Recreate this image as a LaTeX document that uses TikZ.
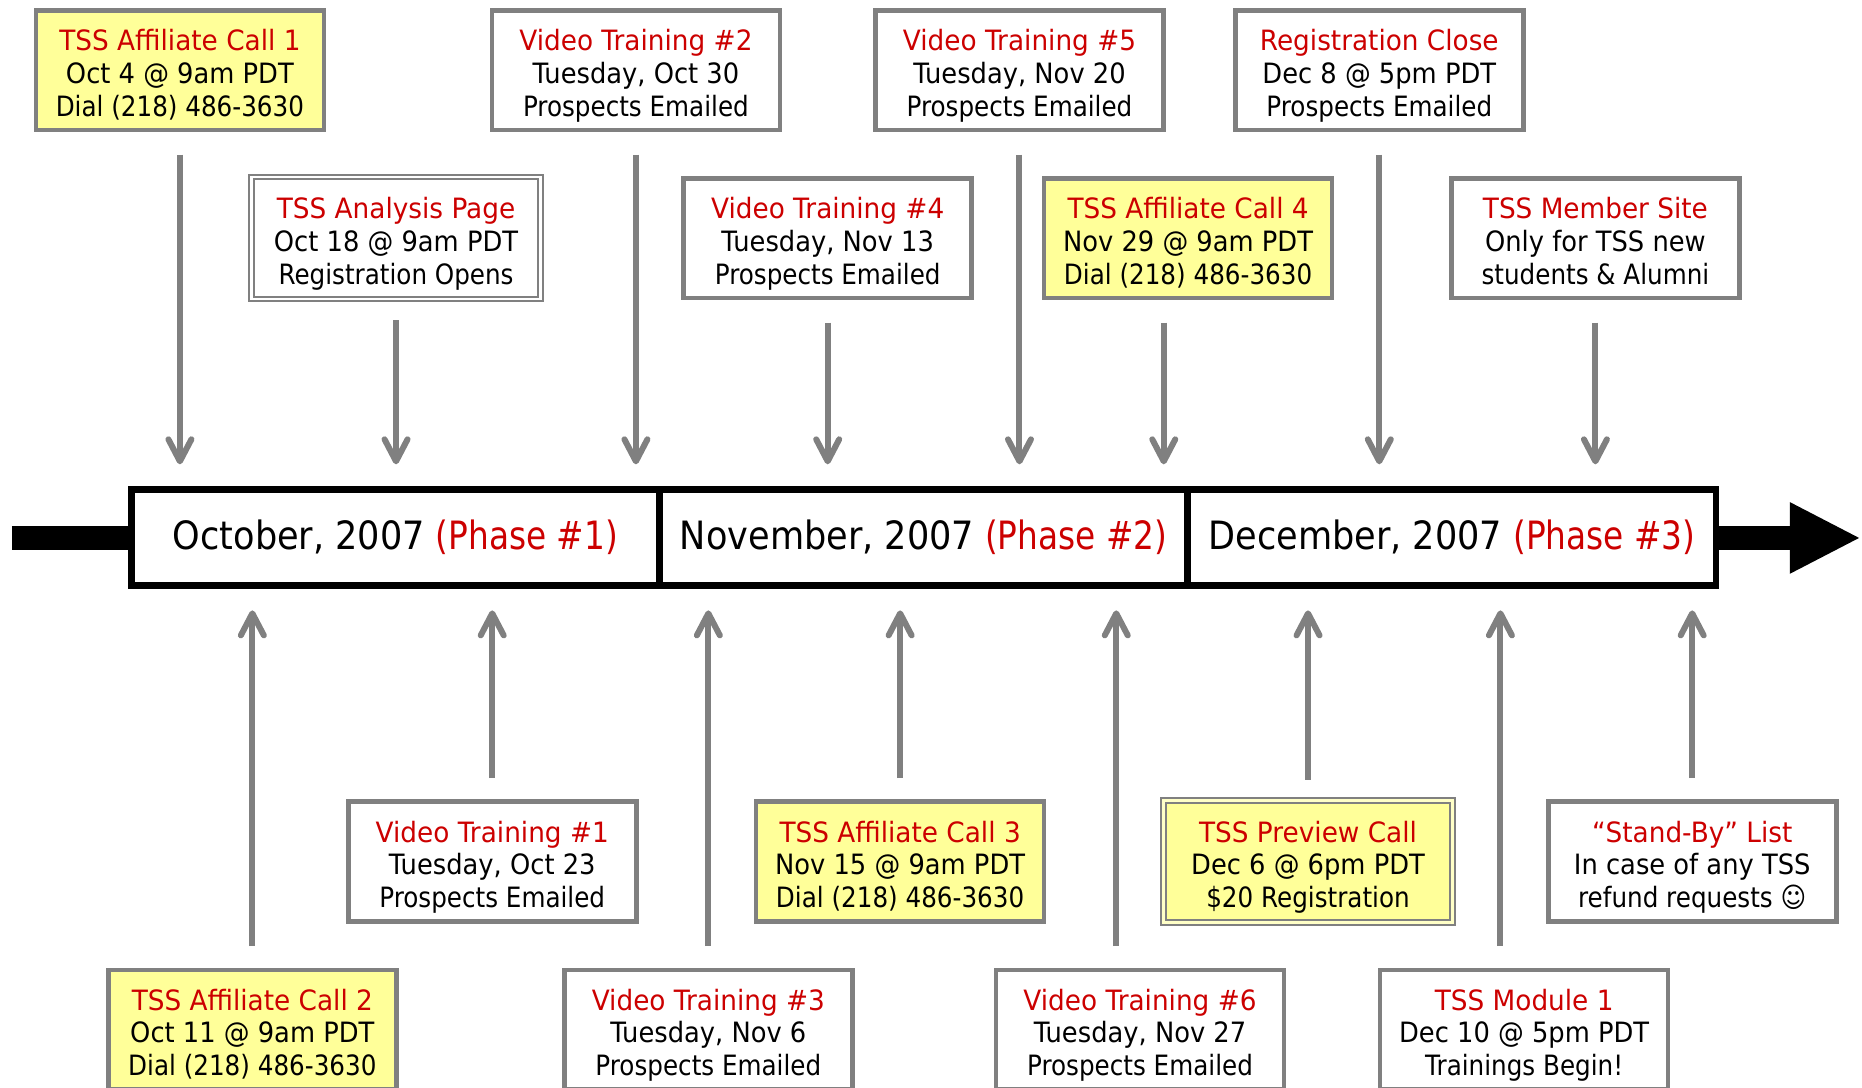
\documentclass[tikz,border=0pt]{standalone}
\usepackage{fontspec}
\setmainfont{DejaVu Sans}[FakeStretch=0.88]
\newfontfamily\redfont{DejaVu Sans}[FakeStretch=0.94]
\newfontfamily\midfont{DejaVu Sans}[FakeStretch=0.92]
\newfontfamily\darkbar{DejaVu Sans}[FakeStretch=0.90]
\newfontfamily\redbar{DejaVu Sans}[FakeStretch=0.84]
\usetikzlibrary{arrows.meta,calc}
\definecolor{tred}{HTML}{CC0000}
\definecolor{tgray}{HTML}{808080}
\definecolor{tyel}{HTML}{FFFF99}
\tikzset{
  evbox/.style={draw=tgray,line width=4.6pt,fill=white,minimum width=288pt,minimum height=119.5pt,inner sep=0pt,align=center,font=\fontsize{28}{32.7}\selectfont},
  yel/.style={fill=tyel},
  dbl/.style={evbox,line width=2.2pt,double=white,double distance=2.4pt,minimum width=289pt,minimum height=122pt},
  dblyel/.style={dbl,double=tyel!55!white,fill=tyel},
  phase/.style={draw=black,line width=6.5pt,fill=white,minimum height=96pt,inner sep=0pt,font=\fontsize{39}{42}\selectfont},
  flow/.style={draw=tgray,line width=6pt,-{Straight Barb[round,length=22pt,width=23pt]}},
  axis/.style={draw=black,line width=23.75pt},
}
\newcommand{\evt}[7]{\node[#4] (#1) at (#2,#3) {\rule{0pt}{33.5pt}\textcolor{tred}{\redfont #5}\\{\midfont #6}\\#7\rule[-7pt]{0pt}{7pt}};}
\newcommand{\barlabel}[2]{{\darkbar #1} \textcolor{tred}{\redbar #2}}
\begin{document}
\begin{tikzpicture}[x=1.1875pt,y=-1.1875pt]
\useasboundingbox (0,0) rectangle (1568,915.37);
\clip (0,0) rectangle (1568,915.37);
% timeline
\coordinate (stub) at (10,453);
\coordinate (tip) at (1567,453);
\coordinate (toptip) at (0,391);
\coordinate (bottip) at (0,514);
\draw[axis] (stub) -- (111,453);
\draw[axis,-{Triangle[length=71pt,width=66pt]}] (1444,453) -- (tip);
\node[phase,minimum width=528pt] (p1) at (333,452.5) {\barlabel{October, 2007}{(Phase \#1)}};
\node[phase,minimum width=528pt] (p2) at (777.75,452.5) {\barlabel{November, 2007}{(Phase \#2)}};
\node[phase,minimum width=528pt] (p3) at (1222.75,452.5) {\barlabel{December, 2007}{(Phase \#3)}};
% top boxes
\evt{a}{151.5}{59}{evbox,yel}{TSS Affiliate Call 1}{Oct 4 @ 9am PDT}{Dial (218) 486-3630}
\evt{b}{535.5}{59}{evbox}{Video Training \#2}{Tuesday, Oct 30}{Prospects Emailed}
\evt{c}{858.5}{59}{evbox}{Video Training \#5}{Tuesday, Nov 20}{Prospects Emailed}
\evt{d}{1161.5}{59}{evbox}{Registration Close}{Dec 8 @ 5pm PDT}{Prospects Emailed}
\evt{e}{333.5}{200.5}{dbl}{TSS Analysis Page}{Oct 18 @ 9am PDT}{Registration Opens}
\evt{f}{697}{200.5}{evbox}{Video Training \#4}{Tuesday, Nov 13}{Prospects Emailed}
\evt{g}{1000.5}{200.5}{evbox,yel}{TSS Affiliate Call 4}{Nov 29 @ 9am PDT}{Dial (218) 486-3630}
\evt{h}{1343.5}{200.5}{evbox}{TSS Member Site}{Only for TSS new}{students \& Alumni}
% bottom boxes
\evt{i}{414.5}{725.5}{evbox}{Video Training \#1}{Tuesday, Oct 23}{Prospects Emailed}
\evt{j}{758}{725.5}{evbox,yel}{TSS Affiliate Call 3}{Nov 15 @ 9am PDT}{Dial (218) 486-3630}
\evt{k}{1101.5}{725.5}{dblyel}{TSS Preview Call}{Dec 6 @ 6pm PDT}{\$20 Registration}
\evt{l}{1425}{725.5}{evbox}{“Stand-By” List}{In case of any TSS}{refund requests ☺}
\evt{m}{212.5}{867}{evbox,yel}{TSS Affiliate Call 2}{Oct 11 @ 9am PDT}{Dial (218) 486-3630}
\evt{n}{596.5}{867}{evbox}{Video Training \#3}{Tuesday, Nov 6}{Prospects Emailed}
\evt{o}{960}{867}{evbox}{Video Training \#6}{Tuesday, Nov 27}{Prospects Emailed}
\evt{q}{1283.5}{867}{evbox}{TSS Module 1}{Dec 10 @ 5pm PDT}{Trainings Begin!}
% connectors, top
\foreach \n in {a,b,c,d,f,h}
  \draw[flow] ($(\n.south)+(0,19)$) -- (\n.south |- toptip);
\draw[flow] ($(e.south)+(0,17)$) -- (e.south |- toptip);
\draw[flow] ($(g.south)+(-20.5,19)$) -- ($(g.south |- toptip)+(-20.5,0)$);
% connectors, bottom
\foreach \n in {i,j,l,m,n}
  \draw[flow] ($(\n.north)+(0,-18)$) -- (\n.north |- bottip);
\draw[flow] ($(k.north)+(0,-16.5)$) -- (k.north |- bottip);
\foreach \n in {o,q}
  \draw[flow] ($(\n.north)+(-20,-18)$) -- ($(\n.north |- bottip)+(-20,0)$);
\end{tikzpicture}
\end{document}
